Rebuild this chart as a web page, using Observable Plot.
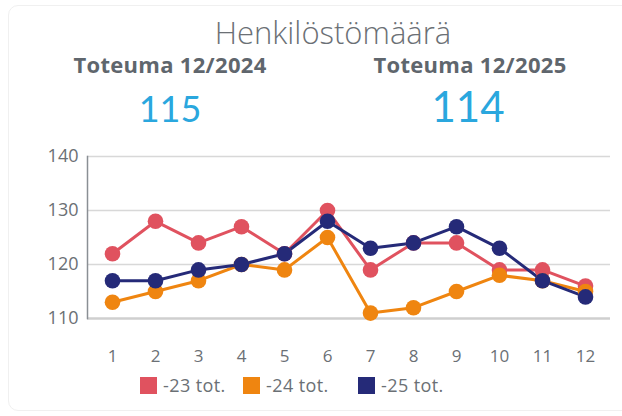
<!DOCTYPE html>
<html><head><meta charset="utf-8">
<script src="https://cdn.jsdelivr.net/npm/d3@7"></script>
<script src="https://cdn.jsdelivr.net/npm/@observablehq/plot@0.6"></script>
<style>
body{margin:0;background:#fff;font-family:"Open Sans","Noto Sans",sans-serif;}
#wrap{position:relative;width:622px;height:416px;overflow:hidden;background:#fff;}
#card{position:absolute;left:8px;top:5px;width:640px;height:404px;border:1.5px solid #f0f0f0;border-radius:10px;}
.t{position:absolute;white-space:nowrap;transform:translateX(-50%);line-height:1;}
#title{left:333px;top:17px;font-size:31px;font-weight:300;color:#6b7075;}
.sub{top:53px;font-size:22px;font-weight:700;color:#5f666d;letter-spacing:0.3px;}
.kpi{color:#2aa7de;font-weight:400;font-family:Lato,"Open Sans",sans-serif;}
#chart{position:absolute;left:0;top:140px;}
#legend{position:absolute;top:373px;left:0;width:622px;font-size:18px;color:#6b7075;letter-spacing:0.4px;}
.li{position:absolute;display:flex;align-items:center;}
.sw{width:17px;height:17px;margin-right:6px;}
</style></head>
<body><div id="wrap">
<div id="card"></div>
<div id="title" class="t">Henkilöstömäärä</div>
<div class="t sub" style="left:170px">Toteuma 12/2024</div>
<div class="t sub" style="left:470px">Toteuma 12/2025</div>
<div class="t kpi" style="left:170px;top:90px;font-size:36px">115</div>
<div class="t kpi" style="left:468px;top:85px;font-size:42px">114</div>
<div id="chart"></div>
<div id="legend"></div>
</div>
<script>
const months = [1,2,3,4,5,6,7,8,9,10,11,12];
const seriesNames = ["-23 tot.","-24 tot.","-25 tot."];
const seriesColors = ["#e0525f","#ef8510","#252a78"];
const v23 = [122,128,124,127,122,130,119,124,124,119,119,116];
const v24 = [113,115,117,120,119,125,111,112,115,118,117,115];
const v25 = [117,117,119,120,122,128,123,124,127,123,117,114];
const yTicks = [110,120,130,140];

const rows = [];
[v23,v24,v25].forEach((vals,i)=>vals.forEach((v,j)=>rows.push({month:months[j],value:v,series:seriesNames[i]})));

const chart = Plot.plot({
  width:622, height:235,
  marginTop:16, marginLeft:87, marginRight:12, marginBottom:57,
  style:{fontFamily:"'Open Sans','Noto Sans',sans-serif",fontSize:"17px",color:"#6b7075",background:"transparent"},
  x:{type:"point",domain:months,padding:0.5},
  y:{domain:[110,140]},
  color:{domain:seriesNames,range:seriesColors},
  marks:[
    Plot.ruleY([120,130,140],{stroke:"#d8d8d8",strokeWidth:1.5}),
    Plot.ruleY([110],{stroke:"#cfcfcf",strokeWidth:2.5}),
    Plot.frame({anchor:"left",stroke:"#8a8f94",strokeWidth:1.5}),
    Plot.axisY({ticks:yTicks,tickSize:0,tickPadding:9,label:null,fill:"#6b7075",fontSize:18}),
    Plot.axisX({tickSize:0,tickPadding:31,label:null,fill:"#6b7075"}),
    Plot.line(rows,{x:"month",y:"value",stroke:"series",z:"series",strokeWidth:3}),
    Plot.dot(rows,{x:"month",y:"value",fill:"series",r:7.8})
  ]
});
document.getElementById("chart").appendChild(chart);

const lg = document.getElementById("legend");
const lx = [140,243,358];
seriesNames.forEach((n,i)=>{
  const d=document.createElement("div");d.className="li";d.style.left=lx[i]+"px";
  d.innerHTML=`<span class="sw" style="background:${seriesColors[i]}"></span><span>${n}</span>`;
  lg.appendChild(d);
});
</script>
</body></html>
